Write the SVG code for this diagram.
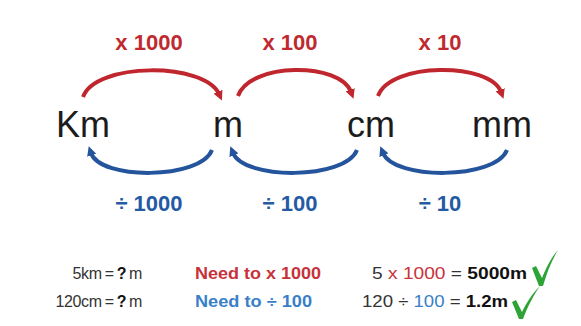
<svg xmlns="http://www.w3.org/2000/svg" width="581" height="326" viewBox="0 0 581 326">
<defs>
<style>
.unit{font-family:"Liberation Sans",Arial,sans-serif;font-size:36px;fill:#1c1c1c;text-anchor:middle}
.mul{font-family:"Liberation Sans",Arial,sans-serif;font-size:22px;font-weight:bold;fill:#bf2a30;text-anchor:middle}
.div{font-family:"Liberation Sans",Arial,sans-serif;font-size:22px;font-weight:bold;fill:#245aa4;text-anchor:middle}
.ex{font-family:"Liberation Sans",Arial,sans-serif;font-size:17px;fill:#333}
.nar{font-family:"Liberation Sans",Arial,sans-serif;font-size:16px;fill:#333;text-anchor:end;word-spacing:-1px;letter-spacing:-0.4px}
.b{font-weight:bold;fill:#111}
.r{fill:#c8323a}
.bl{fill:#3a80c8}
.redarc{fill:none;stroke:#c0262d;stroke-width:4;stroke-linecap:butt;marker-end:url(#ra)}
.bluearc{fill:none;stroke:#24549c;stroke-width:4;stroke-linecap:butt;marker-end:url(#ba)}
.tick{fill:#2ea336}
</style>
<marker id="ra" markerWidth="2.4" markerHeight="2.4" refX="0.6" refY="1.2" orient="auto" markerUnits="strokeWidth">
<path d="M0,0 L2.4,1.2 L0,2.4 Z" fill="#c0262d"/>
</marker>
<marker id="ba" markerWidth="2.4" markerHeight="2.4" refX="0.6" refY="1.2" orient="auto" markerUnits="strokeWidth">
<path d="M0,0 L2.4,1.2 L0,2.4 Z" fill="#24549c"/>
</marker>
</defs>
<rect width="581" height="326" fill="#ffffff"/>

<g id="connectors">
<path class="redarc" d="M83,97 C95,62 205,62 219,94"/>
<path class="redarc" d="M238,96 C250,62 340,62 351,92"/>
<path class="redarc" d="M378,96 C390,62 490,62 501,92"/>
<path class="bluearc" d="M212,150 C200,180 100,180 91,153"/>
<path class="bluearc" d="M357,150 C345,180 244,180 233,153"/>
<path class="bluearc" d="M507,150 C495,180 394,180 383,153"/>
</g>

<g id="labels-mul">
<text class="mul" x="149" y="50">x 1000</text>
<text class="mul" x="290" y="50">x 100</text>
<text class="mul" x="440" y="50">x 10</text>
</g>
<g id="labels-div">
<text class="div" x="149" y="211">÷ 1000</text>
<text class="div" x="290" y="211">÷ 100</text>
<text class="div" x="440" y="211">÷ 10</text>
</g>

<g id="node-km"><text class="unit" x="83" y="137">Km</text></g>
<g id="node-m"><text class="unit" x="228" y="137">m</text></g>
<g id="node-cm"><text class="unit" x="371" y="137">cm</text></g>
<g id="node-mm"><text class="unit" x="502" y="137">mm</text></g>

<g id="example-1">
<text class="nar" x="142" y="279">5km = <tspan class="b">?</tspan> m</text>
<text class="ex b r" x="195" y="279" style="fill:#c8323a" textLength="126" lengthAdjust="spacingAndGlyphs">Need to x 1000</text>
<text class="ex" x="372" y="279" textLength="155" lengthAdjust="spacingAndGlyphs">5 <tspan class="r">x 1000</tspan> = <tspan class="b">5000m</tspan></text>
<path class="tick" d="M532,268 L536,266 L542,278 C547,266 551,258 558,250 C552,260 547,272 543,286 L539,286 Z"/>
</g>
<g id="example-2">
<text class="nar" x="142" y="307">120cm = <tspan class="b">?</tspan> m</text>
<text class="ex b bl" x="195" y="307" style="fill:#3a80c8" textLength="117" lengthAdjust="spacingAndGlyphs">Need to ÷ 100</text>
<text class="ex" x="362" y="307" textLength="146" lengthAdjust="spacingAndGlyphs">120 ÷ <tspan class="bl">100</tspan> = <tspan class="b">1.2m</tspan></text>
<path class="tick" d="M512,302 L516,300 L522,312 C527,302 532,294 540,286 C533,296 528,306 523,319 L519,319 Z"/>
</g>
</svg>
